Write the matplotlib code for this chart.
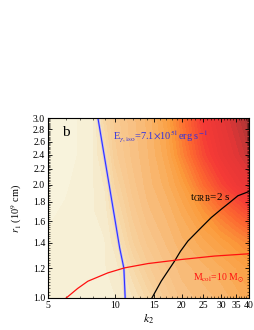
import numpy as np
import matplotlib
matplotlib.use("Agg")
from matplotlib import pyplot as plt
from matplotlib.colors import LinearSegmentedColormap
from matplotlib.ticker import FixedLocator, NullFormatter

plt.rcParams['font.family'] = ['Liberation Serif', 'DejaVu Serif']
plt.rcParams['mathtext.fontset'] = 'stix'

# background field (0 = pale cream, 1 = dark red)
k2_grid = [5, 6, 7, 8, 9, 10, 12, 14, 17, 20, 25, 30, 35, 40]
r1_grid = [1.0, 1.2, 1.4, 1.7, 2.0, 2.4, 3.0]
field = [
    [0.04, 0.04, 0.05, 0.05, 0.05, 0.05, 0.10, 0.16, 0.24, 0.29, 0.32, 0.34, 0.37, 0.40],
    [0.04, 0.04, 0.05, 0.05, 0.05, 0.06, 0.15, 0.22, 0.28, 0.32, 0.35, 0.38, 0.41, 0.44],
    [0.03, 0.04, 0.05, 0.05, 0.05, 0.09, 0.20, 0.26, 0.31, 0.35, 0.40, 0.44, 0.48, 0.52],
    [0.02, 0.03, 0.04, 0.05, 0.06, 0.14, 0.24, 0.30, 0.34, 0.39, 0.48, 0.57, 0.64, 0.70],
    [0.01, 0.02, 0.04, 0.05, 0.08, 0.18, 0.27, 0.32, 0.37, 0.44, 0.59, 0.71, 0.79, 0.85],
    [0.00, 0.01, 0.03, 0.05, 0.12, 0.22, 0.29, 0.33, 0.40, 0.52, 0.70, 0.81, 0.88, 0.94],
    [0.00, 0.01, 0.03, 0.05, 0.17, 0.24, 0.30, 0.34, 0.43, 0.57, 0.76, 0.86, 0.93, 1.00],
]

# E_gamma,iso = 7.1e51 erg/s contour
e_k2 = [8.39, 9.14, 9.97, 10.5, 10.97, 11.12]
e_r1 = [3.0, 2.22, 1.634, 1.359, 1.2, 1.0]

# t_GRB = 2 s contour
t_k2 = [14.66, 16.14, 18.54, 19.7, 21.28, 24.41, 27.08, 30.02, 32.75, 35.69, 40.0]
t_r1 = [1.0, 1.108, 1.253, 1.33, 1.416, 1.537, 1.634, 1.719, 1.791, 1.867, 1.916]

# M_col = 10 Msun contour
m_k2 = [6.04, 6.8, 7.56, 9.30, 11.05, 14.07, 19.85, 28.04, 40.0]
m_r1 = [1.0, 1.06, 1.108, 1.166, 1.202, 1.234, 1.265, 1.292, 1.31]

cmap = LinearSegmentedColormap.from_list('bg', [
    (0.00, '#f9f4df'), (0.05, '#f6eed2'), (0.15, '#f7d9aa'),
    (0.30, '#f8c082'), (0.40, '#faa852'), (0.47, '#fb9a3a'),
    (0.60, '#fc6830'), (0.75, '#f53a36'), (0.88, '#e43636'),
    (1.00, '#a83535')])

fig = plt.figure(figsize=(2.55, 3.3), dpi=100)
ax = fig.add_axes([0.188, 0.097, 0.788, 0.545])

K, R = np.meshgrid(k2_grid, r1_grid)
ax.contourf(K, R, np.array(field), levels=np.linspace(0, 1, 40), cmap=cmap)

ax.plot(e_k2, e_r1, color='#a8a8ff', lw=1.6)
ax.plot(e_k2, e_r1, color='#2a2aff', lw=0.7)
ax.plot(t_k2, t_r1, color='black', lw=0.9)
ax.plot(m_k2, m_r1, color='#ff1010', lw=0.9)

ax.set_xscale('log')
ax.set_yscale('log')
ax.set_xlim(5, 40)
ax.set_ylim(1.0, 3.0)

xt = [5, 10, 15, 20, 25, 30, 35, 40]
ax.xaxis.set_major_locator(FixedLocator(xt))
ax.set_xticklabels([str(v) for v in xt])
ax.xaxis.set_minor_locator(FixedLocator(np.arange(5, 41, 1)))
ax.xaxis.set_minor_formatter(NullFormatter())
yt = np.round(np.arange(1.0, 3.01, 0.2), 1)
ax.yaxis.set_major_locator(FixedLocator(yt))
ax.set_yticklabels(['%.1f' % v for v in yt])
ax.yaxis.set_minor_locator(FixedLocator(np.arange(1.0, 3.0, 0.02)))
ax.yaxis.set_minor_formatter(NullFormatter())
ax.tick_params(which='both', direction='in', top=True, right=True, labelsize=7, pad=2)
ax.tick_params(which='major', length=3, width=0.6)
ax.tick_params(which='minor', length=1.5, width=0.4)

ax.set_xlabel('$k_2$', fontsize=8.5, labelpad=2)
ax.set_ylabel('$r_1$ (10$^9$ cm)', fontsize=7.5, labelpad=6)

ax.text(0.07, 0.955, 'b', transform=ax.transAxes, fontsize=11, va='top')
ax.text(0.323, 0.90, r'E$_{\gamma,\rm iso}$=7.1$\times$10$^{51}$erg s$^{-1}$',
        transform=ax.transAxes, fontsize=7.5, color='#3030e0', va='center')
ax.text(0.705, 0.555, r't$_{\rm GRB}$=2 s', transform=ax.transAxes,
        fontsize=8, color='black', va='center')
ax.text(0.72, 0.11, r'M$_{\rm col}$=10 M$_{\odot}$', transform=ax.transAxes,
        fontsize=7, color='#ff1010', va='center')

fig.savefig('out.png', dpi=100)
